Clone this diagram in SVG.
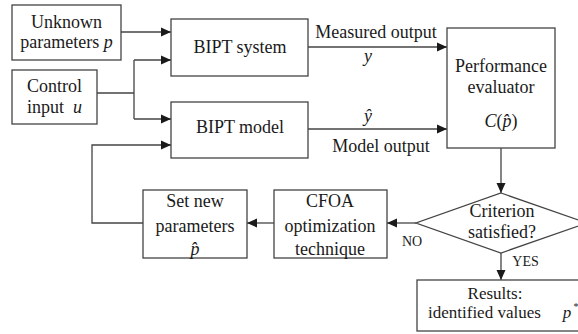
<svg xmlns="http://www.w3.org/2000/svg" width="578" height="334" viewBox="0 0 578 334">
<defs>
<marker id="ah" viewBox="0 0 10 10" refX="10" refY="5" markerWidth="10" markerHeight="10" markerUnits="userSpaceOnUse" orient="auto">
<path d="M0,0.5 L10,5 L0,9.5 z" fill="#1a1a1a"/>
</marker>
<style>
.box{fill:#fff;stroke:#444;stroke-width:1.3}
.ln{fill:none;stroke:#444;stroke-width:1.3}
.arr{fill:none;stroke:#444;stroke-width:1.3;marker-end:url(#ah)}
.t{font-family:"Liberation Serif","Times New Roman",Times,Tinos,"Noto Serif","DejaVu Serif",serif;font-size:18px;fill:#1a1a1a;text-anchor:middle}
.it{font-style:italic}
.sm{font-size:14px}
.r{font-size:17px}
</style>
</defs>
<rect width="578" height="334" fill="#fff"/>
<g id="connectors">
<path class="arr" d="M121,32 H171"/>
<path class="ln" d="M97,93 H134 M134,60 V119"/>
<path class="arr" d="M134,60 H171"/>
<path class="arr" d="M134,119 H171"/>
<path class="arr" d="M308,47 H447"/>
<path class="arr" d="M308,129 H447"/>
<path class="arr" d="M501,148 V193"/>
<path class="arr" d="M416,223 H387"/>
<path class="arr" d="M274,223 H247"/>
<path class="arr" d="M143,223 H92 V145 H171"/>
<path class="arr" d="M501,253 V280"/>
</g>
<g id="unknown">
<rect class="box" x="12" y="5" width="109" height="55"/>
<text class="t" x="66.5" y="28">Unknown</text>
<text class="t" x="66.5" y="48">parameters <tspan class="it">p</tspan></text>
</g>
<g id="control">
<rect class="box" x="12" y="70" width="85" height="54"/>
<text class="t" x="54.5" y="92">Control</text>
<text class="t" x="54.5" y="113" xml:space="preserve">input  <tspan class="it">u</tspan></text>
</g>
<g id="system">
<rect class="box" x="171" y="19" width="137" height="57"/>
<text class="t" x="240" y="53">BIPT system</text>
</g>
<g id="model">
<rect class="box" x="171" y="102" width="137" height="56"/>
<text class="t" x="240" y="133">BIPT model</text>
</g>
<g id="labels">
<text class="t" x="376" y="38">Measured output</text>
<text class="t it" x="368" y="62">y</text>
<text class="t it" x="368" y="122">ŷ</text>
<text class="t" x="381" y="152">Model output</text>
<text class="t sm" x="412" y="246">NO</text>
<text class="t sm" x="525.5" y="266">YES</text>
</g>
<g id="evaluator">
<rect class="box" x="447" y="28" width="108" height="120"/>
<text class="t" x="501" y="72">Performance</text>
<text class="t" x="501" y="93">evaluator</text>
<text class="t" x="501" y="127"><tspan class="it">C</tspan>(<tspan class="it">p̂</tspan>)</text>
</g>
<g id="criterion">
<polygon class="box" points="501,193 587,223 501,253 416,223"/>
<text class="t" x="502" y="217">Criterion</text>
<text class="t" x="502" y="238">satisfied?</text>
</g>
<g id="results">
<rect class="box" x="417" y="280" width="170" height="51"/>
<text class="t r" x="495" y="299">Results:</text>
<text class="t r" x="428" y="318" style="text-anchor:start">identified values</text>
<text class="t r it" x="567" y="318">p</text>
<text class="t" x="576" y="310" style="font-size:10px">*</text>
</g>
<g id="cfoa">
<rect class="box" x="274" y="190" width="113" height="68"/>
<text class="t" x="330" y="207">CFOA</text>
<text class="t" x="330" y="232">optimization</text>
<text class="t" x="330" y="255">technique</text>
</g>
<g id="setparams">
<rect class="box" x="143" y="190" width="104" height="68"/>
<text class="t" x="195" y="207">Set new</text>
<text class="t" x="195" y="232">parameters</text>
<text class="t it" x="195" y="255">p̂</text>
</g>
</svg>
